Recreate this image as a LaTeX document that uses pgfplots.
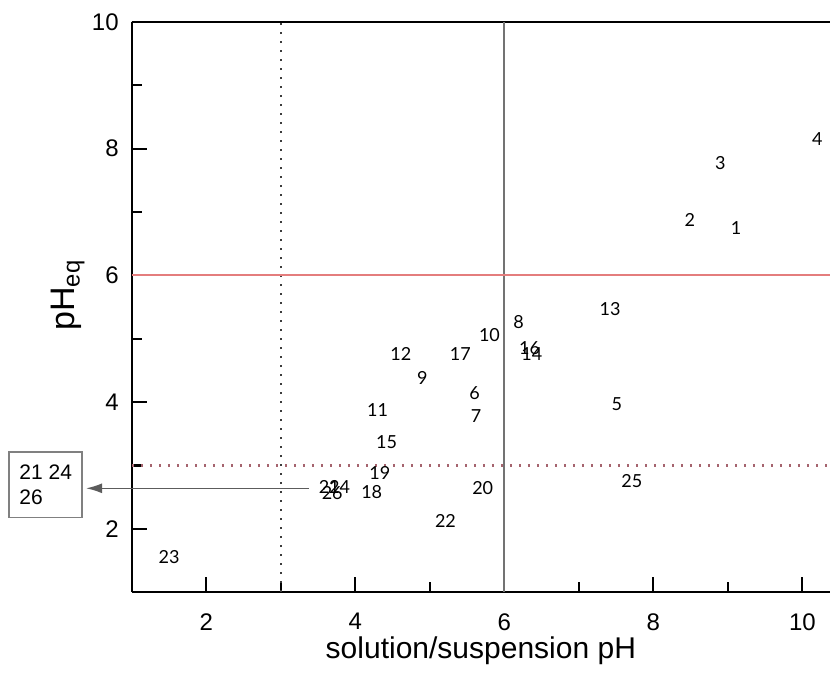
\documentclass[border=0pt]{standalone}
\usepackage{pgfplots}
\pgfplotsset{compat=1.18}
\usepackage{pgfplotstable}
\usepackage{fontspec}
\setmainfont{Liberation Sans}
\newfontfamily\lblfont{Lato}
\usetikzlibrary{calc,arrows.meta}
\definecolor{redline}{RGB}{228,125,125}
\definecolor{brownline}{RGB}{165,100,110}
\definecolor{grayline}{RGB}{115,115,115}
\definecolor{dotgray}{RGB}{60,60,60}

\pgfplotstableread{
x y label
9.11 6.75 1
8.49 6.87 2
8.90 7.77 3
10.20 8.15 4
7.51 3.97 5
5.60 4.15 6
5.62 3.78 7
6.19 5.26 8
4.90 4.38 9
5.80 5.06 10
4.30 3.87 11
4.61 4.76 12
7.42 5.47 13
6.37 4.76 14
4.42 3.37 15
6.34 4.85 16
5.41 4.76 17
4.22 2.58 18
4.33 2.88 19
5.71 2.65 20
3.65 2.66 21
5.21 2.13 22
1.50 1.56 23
3.79 2.66 24
7.71 2.76 25
3.69 2.56 26
}\labels

\begin{document}
\begin{tikzpicture}
\begin{axis}[
  scale only axis, width=349pt, height=285pt,
  xmin=1, xmax=10.37, ymin=1, ymax=10,
  clip=false,
  axis x line*=bottom, axis y line*=left,
  axis line style={line width=1.2pt, -},
  xtick={2,4,6,8,10}, ytick={2,4,6,8,10},
  minor xtick={3,5,7,9}, minor ytick={3,5,7,9},
  tick align=inside,
  major tick length=7.5pt, minor tick length=5pt,
  every tick/.style={line width=1pt, black},
  tick label style={font=\fontsize{12}{14}\selectfont},
  /pgf/number format/assume math mode=true,
  xticklabel style={yshift=-7pt},
  yticklabel style={xshift=-3pt},
  xlabel={solution/suspension pH},
  ylabel={pH\textsubscript{eq}},
  xlabel style={font=\fontsize{15}{17}\selectfont, at={(rel axis cs:0.5,0)}, anchor=center, yshift=-29.5pt},
  ylabel style={font=\fontsize{17}{19}\selectfont, at={(rel axis cs:0,0.521)}, anchor=center, yshift=32pt},
]
\coordinate (BL) at (rel axis cs:0,0);
\coordinate (TR) at (rel axis cs:1,1);
\draw[line width=1.2pt] (rel axis cs:0,1) -- (rel axis cs:1,1);

\addplot[dotgray, line width=1.1pt, dash pattern=on 1.2pt off 3.3pt] coordinates {(3,1) (3,10)};
\addplot[grayline, line width=0.9pt] coordinates {(6,1) (6,10)};
\addplot[redline, line width=1pt] coordinates {(1,6) (10.37,6)};
\addplot[brownline, line width=1.1pt, dash pattern=on 1.2pt off 3.3pt] coordinates {(1,3) (10.37,3)};

\addplot[only marks, mark=none, nodes near coords, point meta=explicit symbolic,
  every node near coord/.style={anchor=center, font=\lblfont\fontsize{9}{10}\selectfont, inner sep=0pt}]
  table[x=x, y=y, meta=label] {\labels};

\draw[grayline!80!black, line width=0.8pt, -{Latex[length=8pt,width=5pt]}] (axis cs:3.38,2.64) -- (axis cs:0.387,2.64);
\draw[gray, line width=0.9pt] (axis cs:-0.648,3.207) rectangle (axis cs:0.333,2.18);
\node[anchor=west, inner sep=0pt, font=\fontsize{10.5}{12}\selectfont] at (axis cs:-0.513,2.89) {21 24};
\node[anchor=west, inner sep=0pt, font=\fontsize{10.5}{12}\selectfont] at (axis cs:-0.513,2.50) {26};
\end{axis}
\pgfresetboundingbox
\path ($(BL)+(-65.85pt,-41pt)$) rectangle ($(TR)+(0pt,11pt)$);
\end{tikzpicture}
\end{document}
